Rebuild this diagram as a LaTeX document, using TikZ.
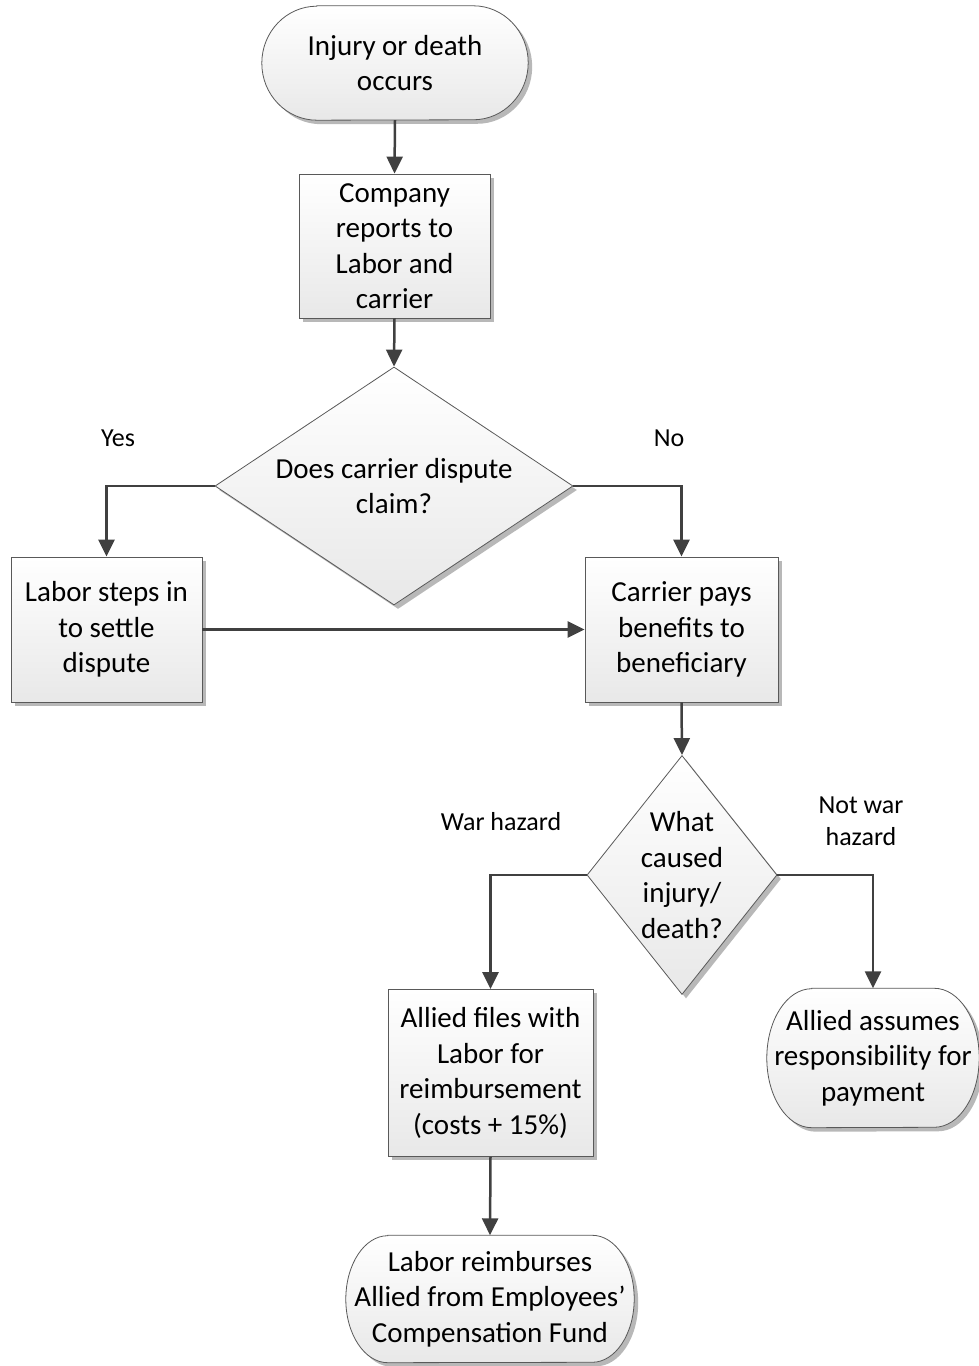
\documentclass[tikz,border=0pt]{standalone}
\usepackage{fontspec}
\setmainfont{Carlito}
\usetikzlibrary{shapes.geometric,shadows,arrows.meta,calc,backgrounds}
\tikzset{
  shadowed/.style={drop shadow={shadow xshift=4pt,shadow yshift=-4pt,fill=black!28,opacity=1}},
  shapefill/.style={top color=white,bottom color=black!9,draw=black!65,line width=0.8pt,shadowed},
  txt/.style={font=\fontsize{29}{35.5}\selectfont,align=center,text=black},
  procbox/.style={shapefill,rectangle,inner sep=0pt,txt},
  decision/.style={shapefill,diamond,inner sep=0pt},
  termnode/.style={rectangle,inner sep=0pt,txt},
  termshape/.style={shapefill},
  flow/.style={draw=black!75,line width=2.5pt,-{Triangle[length=17pt,width=16pt]}},
  lbl/.style={font=\fontsize{26}{32}\selectfont,align=center,text=black},
  every label/.style={txt}
}
\newcommand\termoutline[3]{%
  \path[termshape] ($(#1.north west)+(#2,0)$) -- ($(#1.north east)+(-#2,0)$)
    arc[start angle=90,end angle=-90,x radius=#2,y radius=#3]
    -- ($(#1.south west)+(#2,0)$)
    arc[start angle=270,end angle=90,x radius=#2,y radius=#3] -- cycle;}
\begin{document}
\begin{tikzpicture}[x=1pt,y=1pt]
\useasboundingbox (0,0) rectangle (979,1366);
% terminators
\node[termnode,minimum width=266pt,minimum height=114pt] (start) at (395,1303) {Injury or death\\occurs};
\node[termnode,minimum width=212pt,minimum height=139pt] (assumes) at (873,308) {Allied assumes\\responsibility for\\payment};
\node[termnode,minimum width=288pt,minimum height=127pt] (reimb) at (490,67) {Labor reimburses\\Allied from Employees’\\Compensation Fund};
\begin{scope}[on background layer]
  \termoutline{start}{55}{57}
  \termoutline{assumes}{45}{69.5}
  \termoutline{reimb}{42}{63.5}
\end{scope}
% process boxes
\node[procbox,minimum width=191pt,minimum height=144pt] (company) at (394.5,1120) {Company\\reports to\\Labor and\\carrier};
\node[procbox,minimum width=191pt,minimum height=145pt] (labor) at (106.5,736.5) {Labor steps in\\to settle\\dispute};
\node[procbox,minimum width=193pt,minimum height=145pt] (carrier) at (681.5,736.5) {Carrier pays\\benefits to\\beneficiary};
\node[procbox,minimum width=205pt,minimum height=167pt] (files) at (490.5,293) {Allied files with\\Labor for\\reimbursement\\(costs + 15\%)};
% decisions
\node[decision,minimum width=358pt,minimum height=238pt,label=center:{Does carrier dispute\\claim?}] (d1) at (394,880) {};
\node[decision,minimum width=190pt,minimum height=239pt,label=center:{What\\caused\\injury/\\death?}] (d2) at (682,491) {};
% connectors
\draw[flow] (start.south) -- (company.north);
\draw[flow] (company.south) -- (d1.north);
\draw[flow] (d1.west) -| (labor.north);
\draw[flow] (d1.east) -| (carrier.north);
\draw[flow] (labor.east) -- (carrier.west);
\draw[flow] (carrier.south) -- (d2.north);
\draw[flow] (d2.west) -| (files.north);
\draw[flow] (d2.east) -| (assumes.north);
\draw[flow] (files.south) -- (reimb.north);
% labels
\node[lbl] (yes) at (118,928) {Yes};
\node[lbl] (no) at (669,928) {No};
\node[lbl] (war) at (501,544) {War hazard};
\node[lbl] (notwar) at (861,545) {Not war\\hazard};
\end{tikzpicture}
\end{document}
